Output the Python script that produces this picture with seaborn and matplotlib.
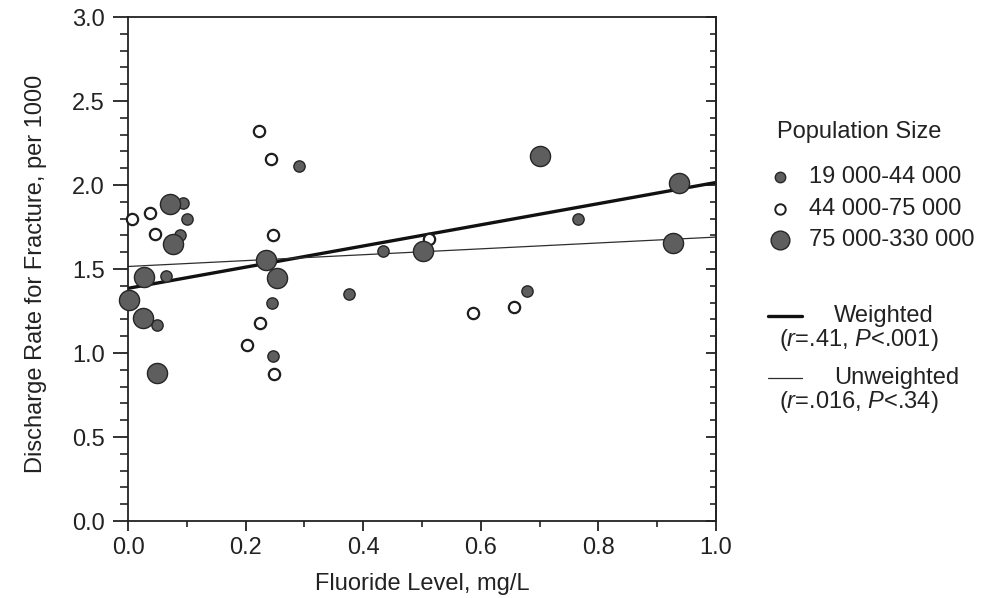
import numpy as np
import pandas as pd
import matplotlib
matplotlib.use('Agg')
import matplotlib.pyplot as plt
import seaborn as sns
from matplotlib.lines import Line2D
from matplotlib.ticker import MultipleLocator, FormatStrFormatter

# Points, one set per population-size group
small_x = [0.291, 0.093, 0.100, 0.088, 0.064, 0.245, 0.050, 0.247, 0.765, 0.434, 0.376, 0.678]
small_y = [2.115, 1.890, 1.796, 1.700, 1.460, 1.300, 1.167, 0.982, 1.798, 1.607, 1.351, 1.371]

mid_x = [0.222, 0.244, 0.037, 0.006, 0.046, 0.246, 0.225, 0.202, 0.249, 0.512, 0.586, 0.656]
mid_y = [2.320, 2.155, 1.835, 1.800, 1.708, 1.702, 1.177, 1.048, 0.875, 1.679, 1.240, 1.276]

large_x = [0.071, 0.077, 0.235, 0.254, 0.028, 0.002, 0.026, 0.049, 0.701, 0.937, 0.502, 0.927]
large_y = [1.887, 1.649, 1.554, 1.445, 1.450, 1.315, 1.206, 0.883, 2.175, 2.010, 1.607, 1.653]

group_labels = ['19 000-44 000', '44 000-75 000', '75 000-330 000']

# regression lines (intercept, slope) as drawn in the figure
weighted_fit = (1.385, 0.630)
unweighted_fit = (1.515, 0.175)
line_labels = ['Weighted', 'Unweighted']
line_stats = [r'($r$=.41, $P$<.001)', r'($r$=.016, $P$<.34)']

sns.set_style('ticks')
plt.rcParams['font.family'] = ['Liberation Sans', 'DejaVu Sans']
plt.rcParams['mathtext.fontset'] = 'custom'
plt.rcParams['mathtext.rm'] = 'Liberation Sans'
plt.rcParams['mathtext.it'] = 'Liberation Sans:italic'

FS = 17
INK = '#222222'

df = pd.concat([
    pd.DataFrame({'fluoride': small_x, 'rate': small_y, 'group': group_labels[0]}),
    pd.DataFrame({'fluoride': mid_x, 'rate': mid_y, 'group': group_labels[1]}),
    pd.DataFrame({'fluoride': large_x, 'rate': large_y, 'group': group_labels[2]}),
], ignore_index=True)

fill = '#5e5e5e'
edge = '#262626'
styles = {
    group_labels[0]: dict(s=66, color=fill, edgecolor=edge, linewidth=1.0),
    group_labels[1]: dict(s=66, color='white', edgecolor='#1e1e1e', linewidth=1.6),
    group_labels[2]: dict(s=210, color=fill, edgecolor=edge, linewidth=1.0),
}
line_styles = [dict(color='#111111', lw=2.4), dict(color='#2e2e2e', lw=0.9)]

fig = plt.figure(figsize=(9.88, 5.98), dpi=100)
ax = fig.add_axes([128 / 988, 1 - 521 / 598, 588 / 988, 504 / 598])

xs = np.array([0.0, 1.0])
for fit, st in zip([weighted_fit, unweighted_fit], line_styles):
    ax.plot(xs, fit[0] + fit[1] * xs, zorder=2, **st)

for g in group_labels:
    sns.scatterplot(data=df[df['group'] == g], x='fluoride', y='rate', ax=ax,
                    legend=False, zorder=3, clip_on=False, **styles[g])

ax.set_xlim(0, 1.0)
ax.set_ylim(0, 3.0)
ax.xaxis.set_major_locator(MultipleLocator(0.2))
ax.xaxis.set_minor_locator(MultipleLocator(0.1))
ax.yaxis.set_major_locator(MultipleLocator(0.5))
ax.yaxis.set_minor_locator(MultipleLocator(0.1))
ax.xaxis.set_major_formatter(FormatStrFormatter('%.1f'))
ax.yaxis.set_major_formatter(FormatStrFormatter('%.1f'))

ax.tick_params(axis='both', which='major', labelsize=FS, colors=INK, width=1.3)
ax.tick_params(axis='x', which='major', direction='out', length=7.5, pad=4)
ax.tick_params(axis='x', which='minor', direction='out', length=4.5, width=1.2, color=INK)
ax.tick_params(axis='y', which='major', direction='out', length=10.5, pad=6)
ax.tick_params(axis='y', which='minor', direction='out', length=6, width=1.2, color=INK)

# inward ticks on the right-hand frame
sec = ax.secondary_yaxis('right')
sec.yaxis.set_major_locator(MultipleLocator(0.5))
sec.yaxis.set_minor_locator(MultipleLocator(0.1))
sec.tick_params(which='major', direction='in', length=7, width=1.3, labelright=False, color=INK)
sec.tick_params(which='minor', direction='in', length=4.5, width=1.2, color=INK)
sec.spines['right'].set_linewidth(1.3)
sec.spines['right'].set_color(INK)

for sp in ax.spines.values():
    sp.set_linewidth(1.3)
    sp.set_color(INK)

ax.set_xlabel('Fluoride Level, mg/L', fontsize=FS, color=INK)
ax.set_ylabel('Discharge Rate for Fracture, per 1000', fontsize=FS, color=INK)
ax.xaxis.set_label_coords(0.5, -0.103)
ax.yaxis.set_label_coords(-0.138, 0.49)


def fpos(px, py):
    return px / 988, 1 - py / 598


# population-size key
fig.text(*fpos(777, 132), 'Population Size', fontsize=FS, va='center', color=INK)
key_markers = [
    dict(ms=7.5, mfc=fill, mec=edge, mew=1.0),
    dict(ms=7.5, mfc='white', mec='#1e1e1e', mew=1.4),
    dict(ms=13.5, mfc=fill, mec=edge, mew=1.0),
]
for label, mk, row in zip(group_labels, key_markers, [177, 209, 240]):
    mx, my = fpos(780, row)
    fig.add_artist(Line2D([mx], [my], ls='', marker='o', transform=fig.transFigure, **mk))
    fig.text(*fpos(809, row), label, fontsize=FS, va='center', color=INK)

# regression-line key
for label, stat, st, row in zip(line_labels, line_stats, line_styles, [316, 378]):
    x0, y0 = fpos(768, row)
    x1, _ = fpos(802, row)
    fig.add_artist(Line2D([x0, x1], [y0, y0], transform=fig.transFigure, **st))
    fig.text(*fpos(834, row), label, fontsize=FS, va='center', color=INK)
    fig.text(*fpos(779, row + 24), stat, fontsize=FS, va='center', color=INK)

fig.savefig('out.png', dpi=100, facecolor='white')
